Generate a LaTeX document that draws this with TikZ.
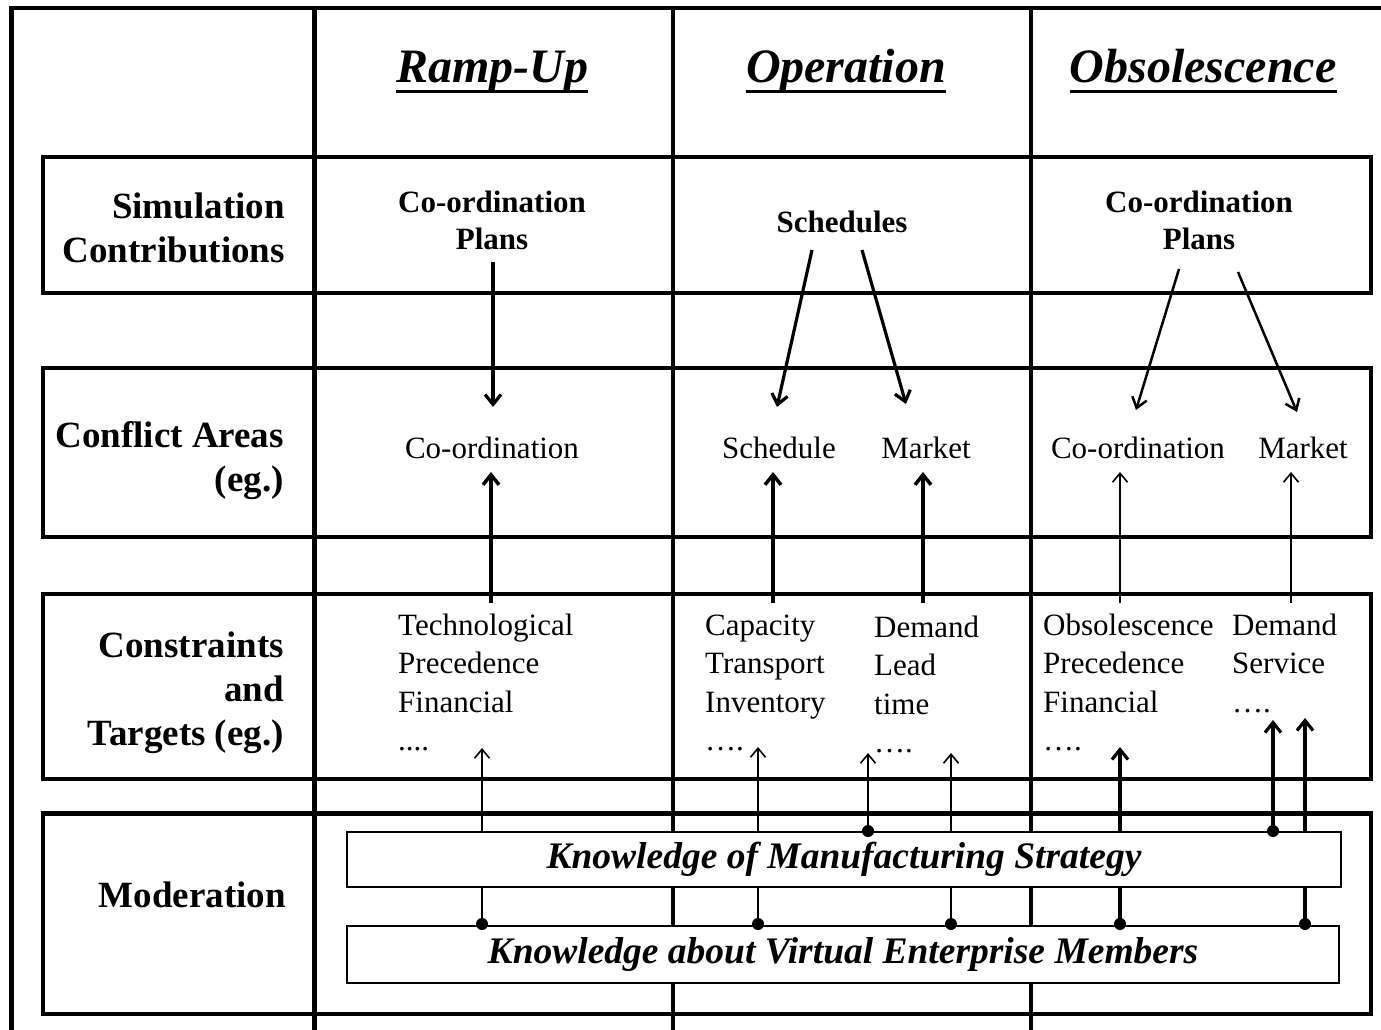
\documentclass[tikz,border=0pt]{standalone}
\usepackage{fontspec}
\setmainfont{Liberation Serif}
\usetikzlibrary{arrows.meta}
\begin{document}
\begin{tikzpicture}[x=1pt,y=-1pt,
  frame/.style={line width=4.5pt},
  thinarr/.style={line width=1.6pt,-{Straight Barb[length=9pt,width=15pt]}},
  medarr/.style={line width=2.5pt,-{Straight Barb[length=10pt,width=15pt]}},
  thickarr/.style={line width=3.2pt,-{Straight Barb[length=10pt,width=16pt]}},
  kbox/.style={draw,fill=white,line width=1.5pt,inner sep=0pt,font=\fontsize{37.5}{44}\selectfont\bfseries\itshape},
  hdr/.style={inner sep=0pt,anchor=base,font=\fontsize{48}{56}\selectfont\bfseries\itshape},
  rowlbl/.style={inner sep=0pt,align=right,anchor=north east,font=\fontsize{37}{44}\selectfont\bfseries},
  simtxt/.style={inner sep=0pt,align=center,font=\fontsize{31}{37}\selectfont\bfseries},
  catxt/.style={inner sep=0pt,anchor=base,font=\fontsize{31}{37}\selectfont},
  cttxt/.style={inner sep=0pt,align=left,anchor=north west,font=\fontsize{31}{38.5}\selectfont},
  dotfill/.style={fill=black}
]
\useasboundingbox (0,0) rectangle (1381,1030);
% outer frame (cut by the page edges)
\draw[frame] (1400,8) -- (11.5,8) -- (11.5,1045);
% row boxes
\draw[frame] (43,157) rectangle (1371,293);
\draw[frame] (43,368) rectangle (1371,537);
\draw[frame] (43,594) rectangle (1371,779);
\draw[frame] (43,813.5) rectangle (1371,1014);
% column lines
\foreach \x in {314.5,673,1031} \draw[frame] (\x,8) -- (\x,1045);

% headers
\node[hdr] (h1) at (492,83) {Ramp-Up};
\node[hdr] (h2) at (846,83) {Operation};
\node[hdr] (h3) at (1203,83) {Obsolescence};
\foreach \h in {h1,h2,h3}
  \draw[line width=3pt] ([yshift=-9pt]\h.base west) -- ([yshift=-9pt]\h.base east);

% row labels
\node[rowlbl] (l1) at (285,187) {\strut Simulation\\Contributions};
\node[rowlbl] (l2) at (284,416) {\strut Conflict Areas\\(eg.)};
\node[rowlbl] (l3) at (284,626) {\strut Constraints\\and\\Targets (eg.)};
\node[inner sep=0pt,anchor=base east,font=\fontsize{37}{44}\selectfont\bfseries] (l4) at (286,907) {Moderation};

% simulation contributions
\node[simtxt,anchor=north] (s1) at (492,186) {\strut Co-ordination\\Plans};
\node[simtxt,anchor=base] (s2) at (842,232) {Schedules};
\node[simtxt,anchor=north] (s3) at (1199,186) {\strut Co-ordination\\Plans};

% conflict areas
\node[catxt] (c1) at (492,458) {Co-ordination};
\node[catxt] (c2) at (779,458) {Schedule};
\node[catxt] (c3) at (926,458) {Market};
\node[catxt] (c4) at (1138,458) {Co-ordination};
\node[catxt] (c5) at (1303,458) {Market};

% constraints and targets
\node[cttxt] (t1) at (398,608) {\strut Technological\\Precedence\\Financial\\....};
\node[cttxt] (t2) at (705,608) {\strut Capacity\\Transport\\Inventory\\….};
\node[cttxt] (t3) at (874,610) {\strut Demand\\Lead\\time\\….};
\node[cttxt] (t4) at (1043,608) {\strut Obsolescence\\Precedence\\Financial\\….};
\node[cttxt] (t5) at (1232,608) {\strut Demand\\Service\\….};

% arrow end points
\coordinate (s1o) at (493,262);  \coordinate (c1i) at (493,407);
\coordinate (s2a) at (812,250);  \coordinate (c2i) at (777,407);
\coordinate (s2b) at (862,250);  \coordinate (c3i) at (906,404);
\coordinate (s3a) at (1179,269); \coordinate (c4i) at (1136,410);
\coordinate (s3b) at (1238,272); \coordinate (c5i) at (1297,412);

\coordinate (t1o) at (491,603);  \coordinate (c1u) at (491,472);
\coordinate (t2o) at (773,603);  \coordinate (c2u) at (773,472);
\coordinate (t3o) at (923,603);  \coordinate (c3u) at (923,472);
\coordinate (t4o) at (1120,603); \coordinate (c4u) at (1120,472);
\coordinate (t5o) at (1291,603); \coordinate (c5u) at (1291,472);

\coordinate (pA) at (482,924);  \coordinate (qA) at (482,748);
\coordinate (pB) at (758,924);  \coordinate (qB) at (758,747);
\coordinate (pC) at (868,831);  \coordinate (qC) at (868,753);
\coordinate (pD) at (951,924);  \coordinate (qD) at (951,753);
\coordinate (pE) at (1120,924); \coordinate (qE) at (1120,747);
\coordinate (pF) at (1273,831); \coordinate (qF) at (1273,720);
\coordinate (pG) at (1305,924); \coordinate (qG) at (1305,718);

% simulation -> conflict
\draw[thickarr] (s1o) -- (c1i);
\draw[thickarr] (s2a) -- (c2i);
\draw[thickarr] (s2b) -- (c3i);
\draw[medarr] (s3a) -- (c4i);
\draw[medarr] (s3b) -- (c5i);
% constraints -> conflict
\draw[thickarr,line width=3.5pt] (t1o) -- (c1u);
\draw[thickarr,line width=3.5pt] (t2o) -- (c2u);
\draw[thickarr,line width=3.5pt] (t3o) -- (c3u);
\draw[thinarr] (t4o) -- (c4u);
\draw[thinarr] (t5o) -- (c5u);
% moderation -> constraints
\draw[thinarr] (pA) -- (qA);
\draw[thinarr] (pB) -- (qB);
\draw[thinarr] (pC) -- (qC);
\draw[thinarr] (pD) -- (qD);
\draw[thickarr] (pE) -- (qE);
\draw[thickarr] (pF) -- (qF);
\draw[thickarr] (pG) -- (qG);

% knowledge boxes
\node[kbox,minimum width=994pt,minimum height=55pt] (k1) at (844,859.5) {Knowledge of Manufacturing Strategy};
\node[kbox,minimum width=992pt,minimum height=57pt] (k2) at (843,954.5) {Knowledge about Virtual Enterprise Members};

% junction dots
\foreach \p in {pA,pB,pC,pD,pE,pF,pG} \fill[dotfill] (\p) circle[radius=6pt];
\end{tikzpicture}
\end{document}
